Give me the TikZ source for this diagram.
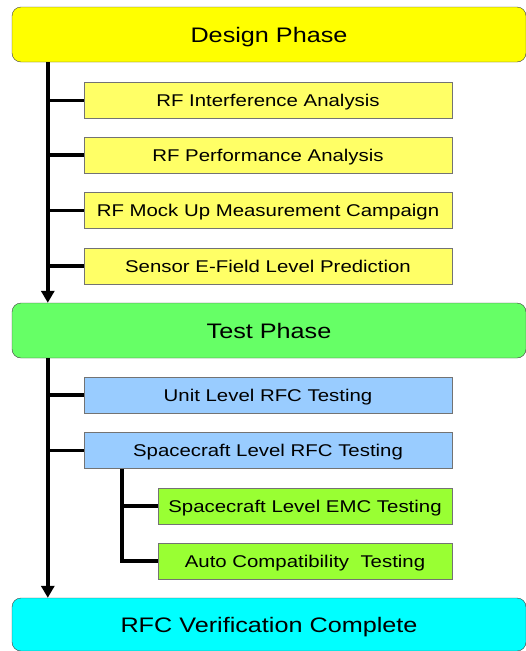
\documentclass[tikz,border=0pt]{standalone}
\usepackage{fontspec}
\usepackage{tikz}
\usetikzlibrary{arrows.meta}

\setmainfont{Liberation Sans}
% Arial-like face, stretched a little to get the wide look of the labels
\newfontfamily\phasefont{Liberation Sans}[FakeStretch=1.2]

\definecolor{designyellow}{HTML}{FFFF00}
\definecolor{taskyellow}{HTML}{FFFF66}
\definecolor{testgreen}{HTML}{66FF66}
\definecolor{taskblue}{HTML}{99CCFF}
\definecolor{tasklime}{HTML}{99FF33}
\definecolor{donecyan}{HTML}{00FFFF}

\tikzset{
    phase/.style={draw=black!75, thin, rounded corners=9pt, minimum width=514pt,
        minimum height=55pt, inner sep=0pt, text depth=0pt,
        font=\phasefont\fontsize{21}{25}\selectfont},
    task/.style={draw=black!55, thin, minimum width=368pt, minimum height=36pt,
        inner sep=0pt, text depth=0pt, font=\phasefont\fontsize{17}{20}\selectfont},
    subtask/.style={task, minimum width=294pt},
    link/.style={line width=3.5pt},
}

\begin{document}
\begin{tikzpicture}[node distance=55pt]
    \useasboundingbox (0pt,0pt) rectangle (526pt,-651pt);

    % design phase and its analyses
    \node[phase, fill=designyellow] (01) at (269pt,-34.5pt) {Design Phase};
    \node[task, fill=taskyellow] (02) [below of=01, node distance=66pt, xshift=-1pt] {RF Interference Analysis};
    \node[task, fill=taskyellow] (03) [below of=02, node distance=54.5pt] {RF Performance Analysis};
    \node[task, fill=taskyellow] (04) [below of=03, node distance=55.5pt] {RF Mock Up Measurement Campaign};
    \node[task, fill=taskyellow] (05) [below of=04, node distance=55.5pt] {Sensor E-Field Level Prediction};

    % test phase
    \node[phase, fill=testgreen] (06) [below of=05, node distance=64.5pt, xshift=1pt] {Test Phase};
    \node[task, fill=taskblue] (07) [below of=06, node distance=64.5pt, xshift=-1pt] {Unit Level RFC Testing};
    \node[task, fill=taskblue] (08) [below of=07, node distance=55.5pt] {Spacecraft Level RFC Testing};
    \node[subtask, fill=tasklime] (09) [below of=08, node distance=55.5pt, xshift=37pt] {Spacecraft Level EMC Testing};
    \node[subtask, fill=tasklime] (10) [below of=09] {Auto Compatibility\ \ Testing};

    \node[phase, fill=donecyan, minimum height=53pt] (11) [below of=10, node distance=63.5pt, xshift=-36pt] {RFC Verification Complete};

    % spines
    \coordinate (s1) at ([xshift=36pt]01.south west);
    \coordinate (s2) at ([xshift=36pt]06.south west);
    \coordinate (s3) at ([xshift=38pt]08.south west);

    \draw[link, -{Triangle[width=13pt,length=12pt]}] (s1) -- (s1 |- 06.north);
    \foreach \n in {02,03,04,05} \draw[link] (\n.west) -- (\n.west -| s1);

    \draw[link, -{Triangle[width=13pt,length=12pt]}] (s2) -- (s2 |- 11.north);
    \foreach \n in {07,08} \draw[link] (\n.west) -- (\n.west -| s2);

    \draw[link] (s3) -- (s3 |- 10.west) -- (10.west);
    \draw[link] (09.west) -- (09.west -| s3);
\end{tikzpicture}
\end{document}
